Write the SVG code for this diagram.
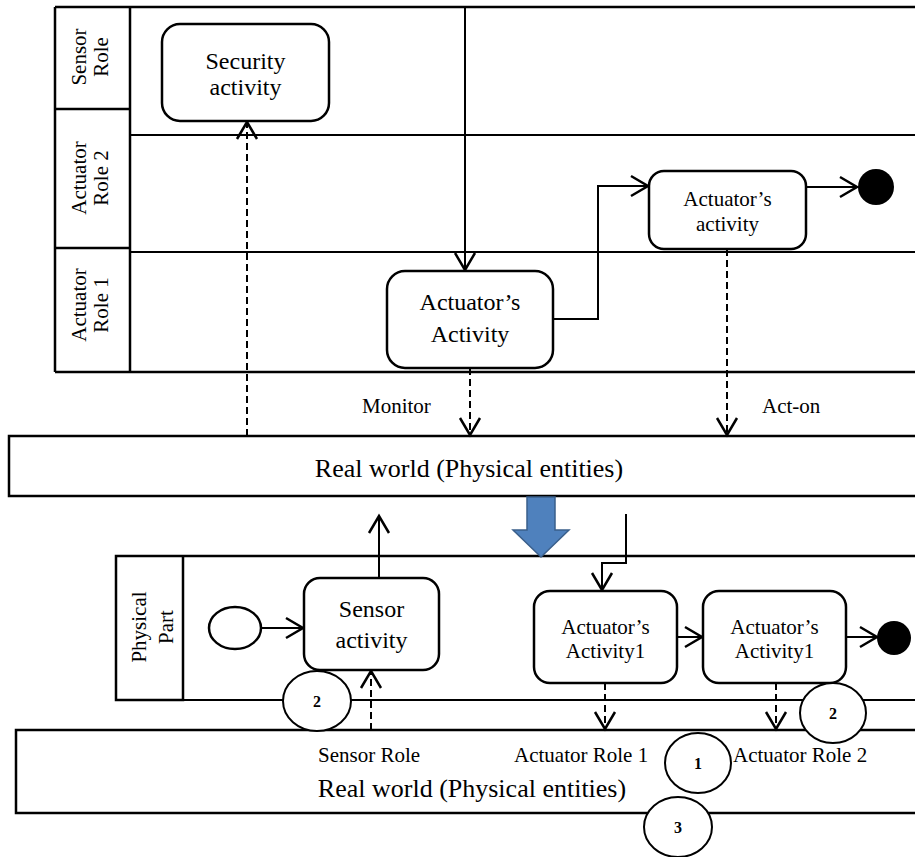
<svg xmlns="http://www.w3.org/2000/svg" width="915" height="857" viewBox="0 0 915 857">
<defs>
<marker id="arr" markerUnits="userSpaceOnUse" markerWidth="24" markerHeight="24" viewBox="-20 -12 24 24" refX="0" refY="0" orient="auto">
<path d="M-17,-10 L0,0 L-17,10" fill="none" stroke="#000" stroke-width="2.5"/>
</marker>
</defs>
<style>
text{font-family:'Liberation Serif',Tinos,'Times New Roman','DejaVu Serif',serif;fill:#000}
.lane{fill:none;stroke:#000;stroke-width:2.5}
.ln{stroke:#000;stroke-width:2;fill:none}
.box{fill:#fff;stroke:#000;stroke-width:2.5}
.c{text-anchor:middle}
.dash{stroke:#000;stroke-width:2;fill:none;stroke-dasharray:7 4}
.flow{stroke:#000;stroke-width:2;fill:none;marker-end:url(#arr)}
.num{fill:#fff;stroke:#000;stroke-width:2}
.nt{font-weight:bold;font-size:16px;text-anchor:middle}
</style>
<rect width="915" height="857" fill="#fff"/>

<!-- Top swimlane -->
<g id="top-swimlane">
<path class="lane" d="M55,7 H920 M55,372 H920 M55,7 V372 M130,7 V372 M55,109 H130 M55,248 H130"/>
<path class="ln" d="M130,135 H920 M130,252 H920"/>
<text font-size="21" class="c" transform="translate(86,57) rotate(-90)">Sensor</text>
<text font-size="21" class="c" transform="translate(108,57) rotate(-90)">Role</text>
<text font-size="21" class="c" transform="translate(86,178) rotate(-90)">Actuator</text>
<text font-size="21" class="c" transform="translate(108,178) rotate(-90)">Role 2</text>
<text font-size="21" class="c" transform="translate(86,305) rotate(-90)">Actuator</text>
<text font-size="21" class="c" transform="translate(108,305) rotate(-90)">Role 1</text>
</g>

<g id="real-world-1">
<rect x="9" y="436" width="915" height="60" class="lane"/>
<text x="469" y="477" font-size="26" class="c">Real world (Physical entities)</text>
</g>

<g id="bottom-swimlane">
<path class="lane" d="M116,556 H183 V700 H116 Z M183,556 H920"/>
<path class="ln" d="M183,700 H920"/>
<text font-size="21" class="c" transform="translate(146,627) rotate(-90)">Physical</text>
<text font-size="21" class="c" transform="translate(173,627) rotate(-90)">Part</text>
</g>

<g id="real-world-2">
<rect x="16" y="730" width="915" height="83" class="lane"/>
<text x="472" y="797" font-size="26" class="c">Real world (Physical entities)</text>
</g>

<!-- Connectors -->
<g id="connectors">
<line x1="247" y1="436" x2="247" y2="122" class="dash" marker-end="url(#arr)"/>
<line x1="470" y1="368" x2="470" y2="435" class="dash" marker-end="url(#arr)"/>
<line x1="727" y1="249" x2="727" y2="435" class="dash" marker-end="url(#arr)"/>
<path d="M465,7 V270" class="flow"/>
<path d="M553,319 H598 V186 H648" class="flow"/>
<path d="M806,187 H857" class="flow"/>
<polygon points="527,497 555,497 555,530 569,530 541,557 513,530 527,530" fill="#4F81BD" stroke="#3A5F8B" stroke-width="1.5"/>
<path d="M626,514 V563 H602 V590" class="flow"/>
<path d="M261,628 H303" class="flow"/>
<path d="M379,578 V516" class="flow"/>
<line x1="371" y1="730" x2="371" y2="671" class="dash" marker-end="url(#arr)"/>
<path d="M677,637 H702" class="flow"/>
<path d="M846,637 H877" class="flow"/>
<line x1="605" y1="683" x2="605" y2="729" class="dash" marker-end="url(#arr)"/>
<line x1="776" y1="683" x2="776" y2="729" class="dash" marker-end="url(#arr)"/>
</g>

<!-- Nodes -->
<g id="security-activity">
<rect x="162" y="24" width="167" height="97" rx="18" class="box"/>
<text x="245.5" y="69" font-size="24" class="c">Security</text>
<text x="245.5" y="95" font-size="24" class="c">activity</text>
</g>
<g id="actuator-activity-role1">
<rect x="387" y="271" width="166" height="97" rx="18" class="box"/>
<text x="470" y="310" font-size="24" class="c">Actuator’s</text>
<text x="470" y="342" font-size="24" class="c">Activity</text>
</g>
<g id="actuator-activity-role2">
<rect x="649" y="171" width="157" height="78" rx="15" class="box"/>
<text x="727.5" y="206" font-size="21" class="c">Actuator’s</text>
<text x="727.5" y="231" font-size="21" class="c">activity</text>
</g>
<g id="final-top">
<circle cx="876" cy="187" r="18" fill="#000"/>
</g>

<g id="labels">
<text x="362" y="413" font-size="21">Monitor</text>
<text x="762" y="413" font-size="21">Act-on</text>
<text x="318" y="762" font-size="21">Sensor Role</text>
<text x="514" y="762" font-size="21">Actuator Role 1</text>
<text x="733" y="762" font-size="21">Actuator Role 2</text>
</g>

<g id="initial">
<ellipse cx="235" cy="628" rx="26" ry="21" fill="#fff" stroke="#000" stroke-width="2.5"/>
</g>
<g id="sensor-activity">
<rect x="304" y="578" width="135" height="92" rx="16" class="box"/>
<text x="371.5" y="617" font-size="24" class="c">Sensor</text>
<text x="371.5" y="648" font-size="24" class="c">activity</text>
</g>
<g id="actuator-activity1-a">
<rect x="534" y="591" width="143" height="92" rx="16" class="box"/>
<text x="605.5" y="634" font-size="21" class="c">Actuator’s</text>
<text x="605.5" y="658" font-size="21" class="c">Activity1</text>
</g>
<g id="actuator-activity1-b">
<rect x="703" y="591" width="143" height="92" rx="16" class="box"/>
<text x="774.5" y="634" font-size="21" class="c">Actuator’s</text>
<text x="774.5" y="658" font-size="21" class="c">Activity1</text>
</g>
<g id="final-bottom">
<circle cx="894" cy="638" r="17" fill="#000"/>
</g>

<g id="mark-2a">
<ellipse cx="317" cy="701" rx="34" ry="30" class="num"/>
<text x="317" y="707" class="nt">2</text>
</g>
<g id="mark-2b">
<ellipse cx="833" cy="713" rx="33" ry="30" class="num"/>
<text x="833" y="719" class="nt">2</text>
</g>
<g id="mark-1">
<ellipse cx="698" cy="763" rx="33" ry="30" class="num"/>
<text x="698" y="769" class="nt">1</text>
</g>
<g id="mark-3">
<ellipse cx="678" cy="827" rx="34" ry="30" class="num"/>
<text x="678" y="833" class="nt">3</text>
</g>
</svg>
